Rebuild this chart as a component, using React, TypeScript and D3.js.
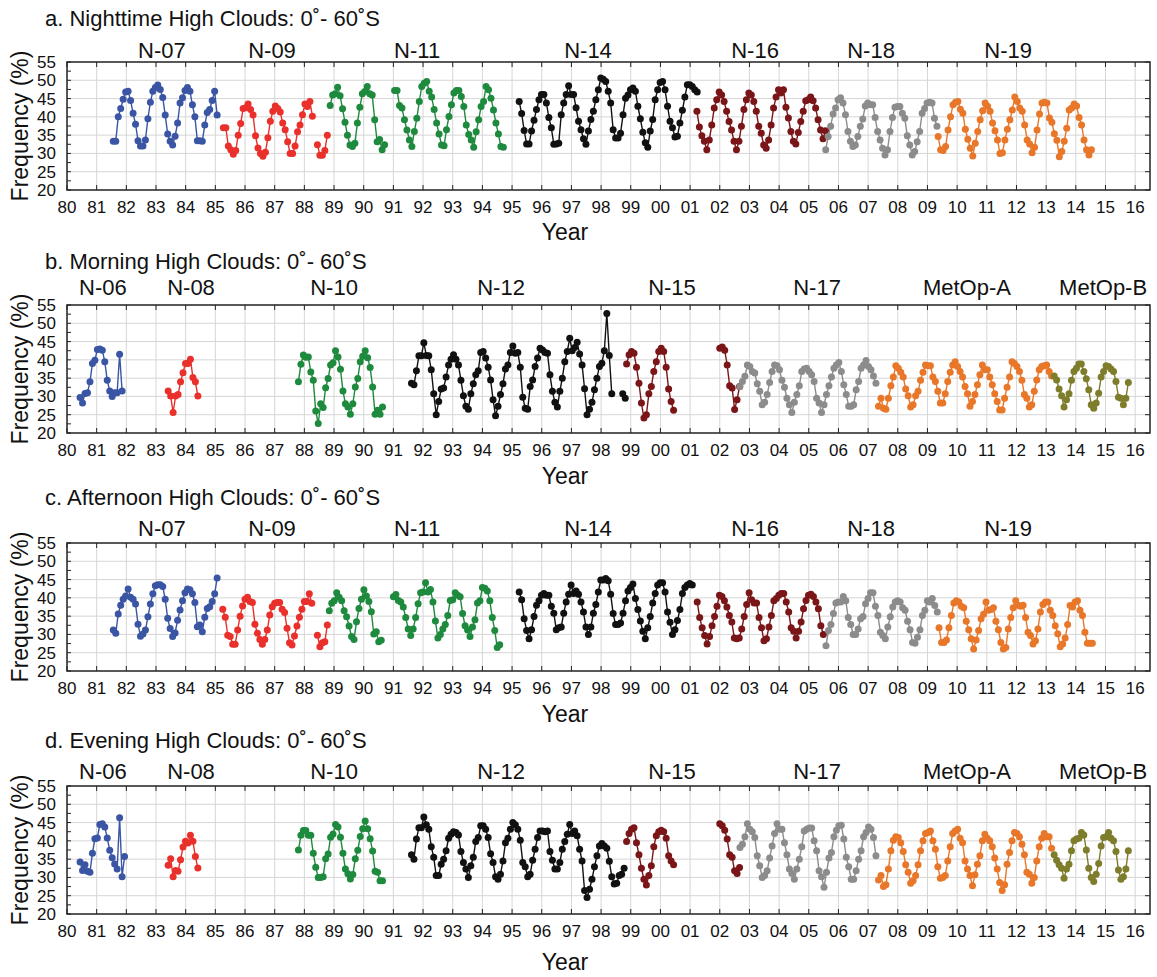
import React from 'react';
import * as d3 from 'd3';

// ---------- DATA (monthly high-cloud frequency, %) ----------
// Panel a: Nighttime
const nightSats = ['N-07', 'N-09', 'N-11', 'N-14', 'N-16', 'N-18', 'N-19'];
const nightN07 = [33.3,33.3,40,42.3,44.8,46.8,47,44.5,41,38,33.5,32,32,33.7,39.5,44,47,48,48.7,47.5,45.3,40.5,35.3,33.3,32.3,34.7,38.3,43.8,45.2,47.2,48,47,43.3,40,33.5,33.5,33.3,37.8,41.2,42,44.5,47,40.5];
const nightN09 = [37,37,32,31,29.8,30.8,35,38.2,42.3,42.5,43.5,42,40.5,34.8,31.5,30,29.2,30.3,34.3,38.8,41.5,43,42.3,41.3,38.3,36.5,33.2,30,30,32,35.9,37.8,40.6,43.5,42.8,44.2,40.2];
const nightN09b = [32.4,29.5,29.5,30.8,35];
const nightN11 = [43.1,46,46.3,48.1,45.8,42.2,38.5,35,32.3,31.9,32.8,38.3,42.6,46.3,46.9,48.3,46.3,46,39.2,33.2,33.8,31,32.4];
const nightN11b = [47.2,47.2,43.1,42.4,39.2,36.4,33.7,31.9,36,39.6,44.2,48.3,49.2,49.7,47,45.4,42,38.3,35.3,32.3,32.1,36.5,40.1,43.3,46.5,47.2,47.2,45.6,42.8,37.8,35.2,33.7,31.7,35.9,39.2,42.8,44.2,48.3,47.4,45.1,41.9,38.3,35.3,31.9,31.7];
const nightN14 = [44.2,40.9,36.3,32.6,32.6,36.1,39.1,42,44.7,46.1,46.1,43.8,39.8,37,32.5,32.6,32.8,40.6,43.8,46.1,48.5,46.1,46.1,42.5,38.8,36.5,34,32.5,36.1,39.3,41.5,44.7,47.4,50.6,50.3,49.7,47,43.8,36.5,34.2,34.2,35.5,40.6,45.1,46,47.4,47.9,47,42.9,39.5,35.8,32.9,31.7,36.1,39.3,44.7,47.4,49.4,49.7,47.4,42.9,38.8,37,34.5,34.7,38.3,41.8,45.4,48.8,48.8,48.3,47.4,46.8];
const nightN16 = [41.5,37.2,34.8,33.3,31,33.7,37.8,42.4,44.7,46.8,46,44.2,41.5,38.7,36.4,33.3,31,33.3,37.4,42,44.7,46.5,46,44.2,41.5,37.4,35.5,32.3,31.4,33.7,37.8,42.4,45.4,47.4,46.5,47.4,42.6,39.7,36,33.3,32.6,35.7,38.7,41.5,44.4,44.7,45.4,44.4,42.4,39.2,36.4,34,36.2];
const nightN18 = [31,34.6,37.4,40.8,42.4,44.7,45.2,43.8,40.6,36,33.3,31.9,32.3,34.6,37.4,39.4,43,43.8,43.3,43.3,39.8,36,33.7,31.4,29.6,31,36,39.8,42.6,42.8,42.8,41,39.6,34.8,32.3,29.6,30.5,33.2,36,41,42.3,43.8,44,43.8,39.6,37.4];
const nightN19 = [34.6,31,30.8,31.9,36.4,40,43.3,44,44.2,42.1,41,36.6,33.9,31.4,29.3,32.8,36,39.2,41.7,43.8,42.9,41.5,38.3,36.2,33.7,30,30.2,33.7,36.6,39.2,41.9,45.4,44.2,42.4,41.5,37.8,33.7,32.6,30.2,31.7,36.4,40.8,43.8,44,43.8,39.7,38.5,35.4,33.6,29.1,30.5,33.3,36.9,41.9,42.4,43.5,43,39.8,37.8,33.7,31,29.6,31];

// Panel b: Morning
const morningSats = ['N-06', 'N-08', 'N-10', 'N-12', 'N-15', 'N-17', 'MetOp-A', 'MetOp-B'];
const mornN06 = [29.7,28.2,30.8,31,34,39,39.9,42.8,43,42.6,39.5,34.4,31.5,30,31,31,41.5,31.5];
const mornN08 = [31.5,30.1,25.6,30.1,30.5,34,36.5,39,39,40.2,35.2,34,30.1];
const mornN10 = [34,38.8,41.3,40.7,40.8,36.7,34.4,26,22.6,28,27,32.4,34.9,38.6,39.2,42.5,40.8,37.4,31.5,28,27.1,25.1,28,32.6,34.9,39.5,41,42.5,40.6,37.9,32.6,25.1,26.2,25.1,27.1];
const mornN12 = [33.6,33.2,37,41.1,41.1,44.7,41.2,41.1,37.3,30.7,25,28.6,32,32.3,35.3,38.6,40.2,41.4,40.2,38.6,34.4,30.2,27.3,26.5,30.7,33.5,35.9,37,42,42.3,40.5,38,34.5,29.1,24.7,27.3,30.5,33.5,37.5,38.6,42,43.8,41.8,42,38,29.8,26.8,26.5,32.7,34.5,38.2,40.5,43.2,42.7,42,41.8,35.9,31.4,28.4,27.1,31.4,35,39.5,42.3,45.9,42.5,43.4,44.8,41.6,38.6,32.1,25,26.5,28.4,31.8,35,38.2,39.1,42.5,52.7,41.2,30.7];
const mornN12b = [30.7,29.5];
const mornN15 = [38.9,41.4,42.3,41.8,38,33.6,28.2,24.1,25,30.7,32.7,36.8,39.5,42.3,43.2,42.3,38,32,28.6,26.2];
const mornN15b = [43.2,43.5,42.6,38.6,32.9,32.3,26.4,29.1,32.7];
const mornN17 = [32.7,34.1,35.5,38.6,38.2,36.8,36.4,33.5,31.4,27.7,28.4,30.5,33.8,36.8,38.6,38.4,37.3,34.4,32.5,29.5,27.7,25.6,28.4,30.5,32.9,36.8,37.5,37.7,36.8,35.9,34.1,29.5,28.2,25.6,27.7,30.5,32.9,35.3,37.7,38.6,39.3,36.8,33.2,30.5,27.3,27.3,27.7,31.8,34.1,37.7,38.6,39.8,38.2,37.3,35.6,33.6];
const mornMA = [27.3,29.5,26.8,26.5,29.5,32.9,35.3,38.4,37.7,36.6,35.3,32,30.2,27.1,27.7,30.2,31.4,34.4,36.6,38.6,38.4,38.4,35.3,34.1,31.4,28.2,28.2,30.7,34.1,36.6,38.6,39.5,38.2,36.8,35.3,32.7,30.7,27.3,28.6,30.5,33.2,35.9,38.6,37.3,37.3,35.3,33.2,30.7,28.6,26.3,26.3,29.5,32.5,35.3,39.5,39,38.2,36.8,34.4,30.5,29.5,27.1,27.7,31.4,34.5,37.3,38.2,38.4,38.6,36.8,35.6];
const mornMB = [35.6,34.5,32,30.2,27.1,29.1,30.7,34.4,36.8,37.7,38.9,38.9,36.8,34.8,31.8,27.7,26.8,28.2,30.9,35.3,36.8,38.4,38.2,37.5,36.8,34.1,29.8,29.5,27.7,29.5,33.8];

// Panel c: Afternoon
const aftSats = ['N-07', 'N-09', 'N-11', 'N-14', 'N-16', 'N-18', 'N-19'];
const aftN07 = [31.2,30.3,35.6,38,39.6,40.5,42.4,40.2,39.6,38.3,32.8,29.5,30.1,31.2,34.8,38.3,41.1,43.3,43.6,43.6,43.1,39.6,34.4,31.6,29.4,30.4,33.9,36.7,39.2,41.4,42.4,42.2,41.1,38.7,32.1,32.6,30.7,34.7,37.1,37.6,39,41.1,45.4];
const aftN09 = [36.9,34.7,29.8,29.4,27.3,27.3,31.2,35,37.8,39.6,40.2,39,38.7,32.8,30.3,28.6,27.3,28.6,31.2,35.3,37.6,38.5,38.7,38.7,36.9,36,31.7,27.7,27.1,29.6,32.3,34.7,36.9,39,39,41.1,38.5];
const aftN09b = [29.8,26.6,27.7,28,32.6];
const aftN11 = [36.5,38.5,39.2,41.4,40.2,39.2,36.5,34.8,32.3,29.4,28.6,33.5,37.1,39.6,42.2,40.5,39,36.2,30.1,30.7,28,28.4];
const aftN11b = [40.3,40.9,39.3,38.9,37.5,34.6,31.5,29.7,31.5,34.6,38.4,41.4,41.6,44.1,41.6,42.3,38.9,33.7,29,30,31.5,32.7,35.2,39.3,39.5,41.4,40.7,40.3,35.7,32.4,31.2,29.4,32,34,38.6,39.2,42.8,42.6,41.9,39.2,34.6,31.1,26.4,27.2];
const aftN14 = [41.6,39.5,34.3,31.1,28.8,31.3,34.9,38,39.2,40.7,41.2,40.7,40.7,37.7,35.8,31.3,31.8,32,35.8,38.9,41,43.5,41.2,41.9,41,38.9,36.1,32,30,32,35.8,38.2,41.6,44.9,44.9,45.3,44.7,41,35.7,32.7,32.7,33.1,35.8,39.2,41.9,42.8,43.8,39.8,36.8,33.7,30.9,28.8,31.8,34.9,38.6,41.2,43.5,44.1,44.1,41.6,36.1,33.3,30,31.3,33.8,36.8,41.2,42.8,43.5,43.9,43.5];
const aftN16 = [38.9,34.6,31.8,29.7,27.4,29.4,32.4,34.9,37.7,40.7,40.4,39.2,37.5,35.2,33.4,29,28.8,29,31.5,34.9,38.2,41.4,39.5,38.6,38.6,34.6,31.8,28.3,28.8,32,35.2,39.2,39.8,40.7,41.2,41.2,38.9,36.1,31.8,30.9,29,30.9,33.4,37,39.3,40.7,41,40.4,38.9,37,32.4,30];
const aftN18 = [26.9,31.1,32.7,35.7,38.6,38.9,38.9,40.4,39.2,34.6,32.7,30,30,31.5,34.3,34.9,38.4,39.8,41.4,41.4,37.7,35.2,30.6,29.7,28.8,32,34.8,37.5,38.9,39.2,38.9,37.3,36.6,33.6,31.3,27.8,27.6,29.2,31.3,35.2,36.6,39.2,38.9,39.8,37.9,36.1];
const aftN19 = [31.8,27.8,27.8,28.5,31.8,35.2,38.6,39.2,38.9,37.7,37.3,33.6,31.3,28.8,26,28.5,31.1,34.3,35.5,38.9,36.6,36.8,37.3,33.6,31.3,27.8,26,26.4,31.5,34.6,37.3,39.2,38,37.7,38,34.6,30.6,29.7,27.4,28.3,31.5,36.1,38.2,38.9,38.9,36.6,35.2,32.4,30.2,26.6,27.4,29,32.7,37.9,37.5,38.9,39.2,36.6,35.2,30.6,27.6,27.6,27.6];

// Panel d: Evening
const eveSats = ['N-06', 'N-08', 'N-10', 'N-12', 'N-15', 'N-17', 'MetOp-A', 'MetOp-B'];
const eveN06 = [34.2,31.9,33.5,31.7,31.4,36.6,40.6,40.8,44.5,44.7,43.8,40.8,37.4,35.4,33.7,32.3,46.3,30.2,35.7];
const eveN08 = [33.3,35.1,30.2,31.9,31.7,34.8,38.3,39.9,39.4,41.5,39.9,35.7,32.6];
const eveN10 = [37.5,41.5,42.8,42.8,41.5,41.5,36.6,32.8,30,30,30.2,35.1,36.4,41,41.9,44.5,43.8,41,36.6,32.3,31,29.6,30.8,35.1,37.4,41.2,43.3,45.4,43.3,40.6,37.2,31.7,31.4,29.1,29.1];
const eveN12 = [36.2,35,40.5,43.6,43.6,46.5,44.4,43.2,38.4,35.5,30.5,30.5,33.6,35,37.3,40.7,41.8,42.5,42.3,41.6,37.1,34.1,32.3,30,33.2,35.5,39.8,40.9,44.1,44.1,43.2,40.9,36.5,34.1,30.2,29.5,30.9,34.5,39.5,40.7,43.2,45,44.4,43.2,40.2,34.1,32.9,30.2,30.9,34.7,37.7,40.9,42.7,42.7,42.5,42.7,37.1,34.7,32.3,32.3,34.1,37.7,39.8,41.8,44.5,42,42.7,41.4,37.7,34.5,26.4,24.5,26.8,29.5,32.9,35.9,38.6,39.3,38.6,38,34.4,30.2,28.2,28.4,30.5,30.9,32.5];
const eveN15 = [39.8,42,43.2,43.6,39.5,36.2,32.5,29.5,27.9,30.5,33.2,38.4,41.4,42.5,42.9,42.5,40.7,35.9,34.5,33.5];
const eveN15b = [44.7,44.1,42.9,40.5,36.2,35.5,31.8,31.1,32.7];
const eveN17 = [38.2,39.1,41.1,44.7,43.2,42.5,40.9,35.9,33.2,30,30.5,31.8,35.3,38.6,42,44.7,43.2,43.2,39.5,36.2,32.3,31.1,29.5,32.3,35,38.4,42.7,43.2,43.5,43.5,40,37.3,31.8,30.2,27.3,31.4,35.3,36.8,41.1,42.9,44.1,44.3,40.5,35.5,32.9,29.5,29.5,31.8,35,37.3,41.1,42.3,43.8,43.2,40.9,35.9];
const eveMA = [29.3,30.5,27.5,28,32.3,37.3,40.2,41.1,40.9,39.5,37.1,33.5,31.4,28.4,29.1,30.5,33.5,37.3,40,42,42.3,42.7,40,37.7,32.9,29.8,30,30.5,34.5,38.4,42,42.7,43.2,40.7,39.5,34.5,32.3,30.5,27.7,30.7,33.6,35.9,40,41.8,40.7,40,38.4,35.3,32.3,28.6,26.4,28,33.6,36.8,40,42.3,42,41.1,39.1,36.2,31.4,30.9,28.4,30,34.5,38.4,40.7,42,41.1,41.1,38];
const eveMB = [36.2,34.7,33.5,32.5,29.8,32.3,33.6,37.3,40,40.5,40.7,42.3,41.6,37.5,32.5,30,28.9,30.9,33.8,38.6,40.9,41.1,42.3,40.7,40,37.1,32,29.5,30.2,32.3,37.3];

// Tick values
const yTicks = [20, 25, 30, 35, 40, 45, 50, 55];
const yearTicks = d3.range(1980, 2017);

type Seg = { sat: number; start: number; values: number[] };

const nightSegs: Seg[] = [
  { sat: 0, start: 1981.56, values: nightN07 },
  { sat: 1, start: 1985.27, values: nightN09 },
  { sat: 1, start: 1988.44, values: nightN09b },
  { sat: 2, start: 1988.87, values: nightN11 },
  { sat: 2, start: 1991.04, values: nightN11b },
  { sat: 3, start: 1995.24, values: nightN14 },
  { sat: 4, start: 2001.23, values: nightN16 },
  { sat: 5, start: 2005.57, values: nightN18 },
  { sat: 6, start: 2009.36, values: nightN19 },
];
const mornSegs: Seg[] = [
  { sat: 0, start: 1980.44, values: mornN06 },
  { sat: 1, start: 1983.41, values: mornN08 },
  { sat: 2, start: 1987.8, values: mornN10 },
  { sat: 3, start: 1991.61, values: mornN12 },
  { sat: 3, start: 1998.73, values: mornN12b },
  { sat: 4, start: 1998.86, values: mornN15 },
  { sat: 4, start: 2002.0, values: mornN15b },
  { sat: 5, start: 2002.68, values: mornN17 },
  { sat: 6, start: 2007.35, values: mornMA },
  { sat: 7, start: 2013.27, values: mornMB },
];
const aftSegs: Seg[] = [
  { sat: 0, start: 1981.56, values: aftN07 },
  { sat: 1, start: 1985.25, values: aftN09 },
  { sat: 1, start: 1988.44, values: aftN09b },
  { sat: 2, start: 1988.84, values: aftN11 },
  { sat: 2, start: 1991.0, values: aftN11b },
  { sat: 3, start: 1995.24, values: aftN14 },
  { sat: 4, start: 2001.24, values: aftN16 },
  { sat: 5, start: 2005.58, values: aftN18 },
  { sat: 6, start: 2009.39, values: aftN19 },
];
const eveSegs: Seg[] = [
  { sat: 0, start: 1980.44, values: eveN06 },
  { sat: 1, start: 1983.41, values: eveN08 },
  { sat: 2, start: 1987.8, values: eveN10 },
  { sat: 3, start: 1991.61, values: eveN12 },
  { sat: 4, start: 1998.86, values: eveN15 },
  { sat: 4, start: 2002.0, values: eveN15b },
  { sat: 5, start: 2002.68, values: eveN17 },
  { sat: 6, start: 2007.35, values: eveMA },
  { sat: 7, start: 2013.27, values: eveMB },
];

// ---------- LAYOUT / STYLE ----------
const W = 1157;
const H = 977;
const PL = 67;
const PR = 1150;
const PH = 128;
const COLORS = ['#3a55a4', '#e9302b', '#1e8a3e', '#111111', '#7a1518', '#8c8c8c', '#e8772a', '#7e7d2c'];
const FONT = '"Liberation Sans", Arial, sans-serif';

const labelYearsA = [1983.2, 1986.91, 1991.8, 1997.56, 2003.19, 2007.1, 2011.72];
const labelYearsB = [1981.21, 1984.18, 1989.0, 1994.63, 2000.39, 2005.28, 2010.33, 2014.92];

const panels = [
  { title: 'a. Nighttime High Clouds: 0˚- 60˚S', sats: nightSats, segs: nightSegs, top: 62, titleY: 26, satY: 58, yearY: 240, labelYears: labelYearsA },
  { title: 'b. Morning High Clouds: 0˚- 60˚S', sats: morningSats, segs: mornSegs, top: 305, titleY: 269, satY: 295, yearY: 484, labelYears: labelYearsB },
  { title: 'c. Afternoon High Clouds: 0˚- 60˚S', sats: aftSats, segs: aftSegs, top: 543, titleY: 505, satY: 536, yearY: 722, labelYears: labelYearsA },
  { title: 'd. Evening High Clouds: 0˚- 60˚S', sats: eveSats, segs: eveSegs, top: 786, titleY: 748, satY: 779, yearY: 970, labelYears: labelYearsB },
];

const x = d3.scaleLinear().domain([1980, 2016.5]).range([PL, PR]);

function Panel({ p }: { p: (typeof panels)[number] }) {
  const y = d3.scaleLinear().domain([20, 55]).range([p.top + PH, p.top]);
  const line = d3
    .line<[number, number]>()
    .x((d) => x(d[0]))
    .y((d) => y(d[1]));
  const bottom = p.top + PH;
  const minor = d3.range(20, 55.01, 2.5);
  return (
    <g>
      {/* grid */}
      {yearTicks.slice(1).map((yr) => (
        <line key={'vg' + yr} x1={x(yr)} x2={x(yr)} y1={p.top} y2={bottom} stroke="#d6d6d6" strokeWidth={1} />
      ))}
      {yTicks.slice(1, -1).map((v) => (
        <line key={'hg' + v} x1={PL} x2={PR} y1={y(v)} y2={y(v)} stroke="#d6d6d6" strokeWidth={1} />
      ))}
      {/* ticks */}
      {yearTicks.map((yr) => (
        <g key={'t' + yr}>
          <line x1={x(yr)} x2={x(yr)} y1={bottom} y2={bottom - 5} stroke="#222" strokeWidth={1} />
          <line x1={x(yr)} x2={x(yr)} y1={p.top} y2={p.top + 5} stroke="#222" strokeWidth={1} />
          <text x={x(yr)} y={bottom + 23} textAnchor="middle" fontSize={17} fontFamily={FONT} fill="#111">
            {String(yr % 100).padStart(2, '0')}
          </text>
        </g>
      ))}
      {minor.map((v) => (
        <line key={'lm' + v} x1={PL} x2={PL + 4} y1={y(v)} y2={y(v)} stroke="#222" strokeWidth={1} />
      ))}
      {yTicks.map((v) => (
        <g key={'yt' + v}>
          <line x1={PR} x2={PR - 5} y1={y(v)} y2={y(v)} stroke="#222" strokeWidth={1} />
          <text x={56} y={y(v) + 6} textAnchor="end" fontSize={17} fontFamily={FONT} fill="#111">
            {v}
          </text>
        </g>
      ))}
      <rect x={PL} y={p.top} width={PR - PL} height={PH} fill="none" stroke="#222" strokeWidth={1.5} />
      {/* series */}
      {p.segs.map((s, i) => {
        const pts: [number, number][] = s.values.map((v, k) => [s.start + k / 12, v]);
        const c = COLORS[s.sat];
        return (
          <g key={'s' + i}>
            <path d={line(pts) || ''} fill="none" stroke={c} strokeWidth={1.4} />
            {pts.map((d, k) => (
              <circle key={k} cx={x(d[0])} cy={y(d[1])} r={3.5} fill={c} />
            ))}
          </g>
        );
      })}
      {/* labels */}
      <text x={45} y={p.titleY} fontSize={22} fontFamily={FONT} fill="#111">
        {p.title}
      </text>
      {p.sats.map((name, i) => (
        <text key={name} x={x(p.labelYears[i])} y={p.satY} textAnchor="middle" fontSize={22} fontFamily={FONT} fill="#111">
          {name}
        </text>
      ))}
      <text x={565} y={p.yearY} textAnchor="middle" fontSize={23} fontFamily={FONT} fill="#111">
        Year
      </text>
      <text
        x={28}
        y={p.top + PH / 2}
        transform={`rotate(-90, 28, ${p.top + PH / 2})`}
        textAnchor="middle"
        fontSize={23}
        fontFamily={FONT}
        fill="#111"
      >
        Frequency (%)
      </text>
    </g>
  );
}

export default function App() {
  return (
    <div style={{ position: 'absolute', left: 0, top: 0 }}>
      <svg width={W} height={H} viewBox={`0 0 ${W} ${H}`} style={{ display: 'block', background: '#fff' }}>
        <rect width={W} height={H} fill="#fff" />
        {panels.map((p, i) => (
          <Panel key={i} p={p} />
        ))}
      </svg>
    </div>
  );
}
